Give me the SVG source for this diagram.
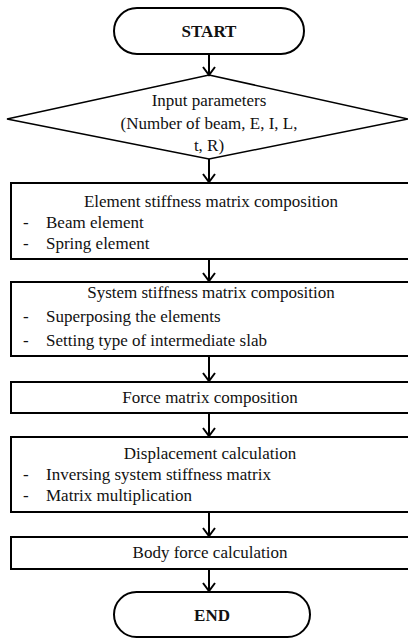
<svg xmlns="http://www.w3.org/2000/svg" width="408" height="641" viewBox="0 0 408 641">
<style>
  .shape { fill: #fff; stroke: #000; stroke-width: 2; }
  .dia { fill: #fff; stroke: #000; stroke-width: 1.6; }
  .t { font-family: "Liberation Serif", "Times New Roman", serif; font-size: 17px; fill: #111; }
  .c { text-anchor: middle; }
  .b { font-weight: bold; }
  .conn line { stroke: #000; stroke-width: 2; marker-end: url(#arr); }
</style>
<defs>
  <marker id="arr" markerUnits="userSpaceOnUse" viewBox="-10 -8 12 16" refX="0" refY="0" markerWidth="12" markerHeight="16" orient="auto">
    <path d="M-8,-6 L0,0 L-8,6" fill="none" stroke="#000" stroke-width="2"/>
  </marker>
</defs>
<rect width="408" height="641" fill="#fff"/>

<g id="start">
  <rect class="shape" x="114" y="8" width="190" height="46" rx="23" ry="23"/>
  <text class="t c b" x="209" y="37">START</text>
</g>

<g id="input">
  <polygon class="dia" points="209,75 408,119 209,159 7,119"/>
  <text class="t c" x="209" y="106">Input parameters</text>
  <text class="t c" x="209" y="129">(Number of beam, E, I, L,</text>
  <text class="t c" x="209" y="151">t, R)</text>
</g>

<g id="element">
  <rect class="shape" x="11" y="183" width="400" height="76"/>
  <text class="t c" x="211" y="207">Element stiffness matrix composition</text>
  <text class="t" x="23" y="228">-</text>
  <text class="t" x="46" y="228">Beam element</text>
  <text class="t" x="23" y="249">-</text>
  <text class="t" x="46" y="249">Spring element</text>
</g>

<g id="system">
  <rect class="shape" x="11" y="282" width="400" height="74"/>
  <text class="t c" x="211" y="298">System stiffness matrix composition</text>
  <text class="t" x="23" y="322">-</text>
  <text class="t" x="46" y="322">Superposing the elements</text>
  <text class="t" x="23" y="346">-</text>
  <text class="t" x="46" y="346">Setting type of intermediate slab</text>
</g>

<g id="force">
  <rect class="shape" x="11" y="382" width="400" height="31"/>
  <text class="t c" x="210" y="403">Force matrix composition</text>
</g>

<g id="displacement">
  <rect class="shape" x="11" y="437" width="400" height="75"/>
  <text class="t c" x="210" y="459">Displacement calculation</text>
  <text class="t" x="23" y="480">-</text>
  <text class="t" x="46" y="480">Inversing system stiffness matrix</text>
  <text class="t" x="23" y="501">-</text>
  <text class="t" x="46" y="501">Matrix multiplication</text>
</g>

<g id="body">
  <rect class="shape" x="11" y="537" width="400" height="32"/>
  <text class="t c" x="210" y="558">Body force calculation</text>
</g>

<g id="end">
  <rect class="shape" x="114" y="592" width="196" height="45" rx="22.5" ry="22.5"/>
  <text class="t c b" x="212" y="621">END</text>
</g>

<g class="conn" id="connectors">
  <line x1="209" y1="55" x2="209" y2="75"/>
  <line x1="209" y1="159" x2="209" y2="182"/>
  <line x1="209" y1="260" x2="209" y2="281"/>
  <line x1="209" y1="357" x2="209" y2="381"/>
  <line x1="209" y1="414" x2="209" y2="436"/>
  <line x1="209" y1="513" x2="209" y2="536"/>
  <line x1="209" y1="570" x2="209" y2="591"/>
</g>
</svg>
